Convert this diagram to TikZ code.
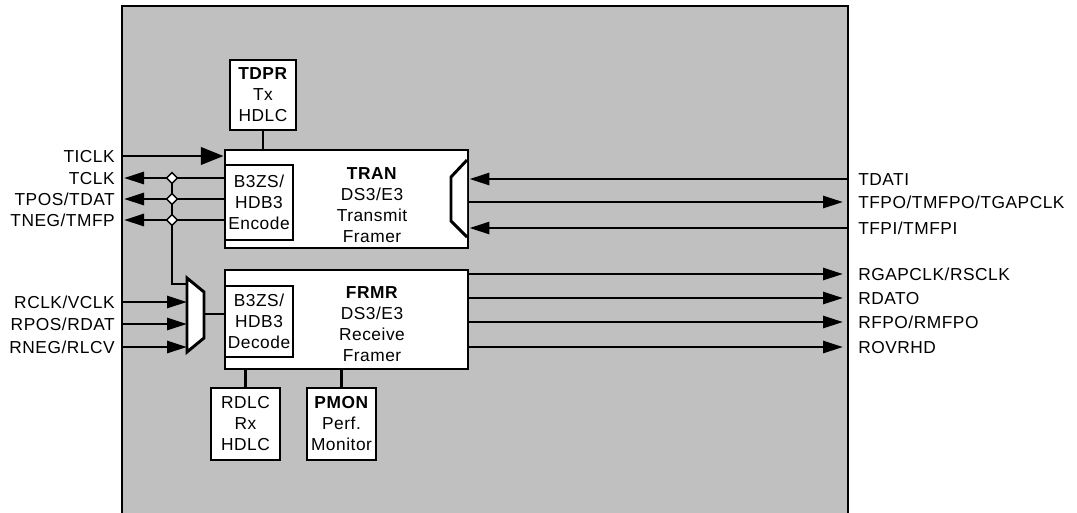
\documentclass[tikz,border=0pt]{standalone}
\usepackage{fontspec}
\setmainfont{Liberation Sans}[LetterSpace=3]
\usetikzlibrary{arrows.meta,shapes.geometric}
\definecolor{chipgray}{RGB}{192,192,192}

\tikzset{
  blk/.style={draw, fill=white, line width=2.2pt, inner sep=0pt, align=center,
    font=\fontsize{13}{15.75}\selectfont},
  txt/.style={inner sep=0pt, align=center, font=\fontsize{13}{15.75}\selectfont},
  pinl/.style={inner sep=0pt, text height=9.3pt, text depth=0pt,
    font=\fontsize{13}{15.75}\selectfont},
  sig/.style={line width=2.2pt},
  sigin/.style={sig, -{Triangle[length=15pt,width=9pt]}},
  jn/.style={diamond, draw, fill=white, line width=1pt, inner sep=0pt, minimum size=8.5pt},
}

\begin{document}
\begin{tikzpicture}[x={(0.75pt,0)}, y={(0,-0.75pt)}]
\path[use as bounding box, clip] (0,0) rectangle (1077,512);

% chip outline
\draw[fill=chipgray, line width=1.5pt] (122,6) rectangle (848,540);

% blocks
\node[blk, minimum width=49.5pt, minimum height=52.5pt] (tdpr) at (263,95) {\textbf{TDPR}\\Tx\\HDLC};
\node[blk, minimum width=182.25pt, minimum height=73.5pt] (tran) at (346.5,199) {};
\node[blk, minimum width=51pt, minimum height=56.25pt] (enc) at (259,202.5) {B3ZS/\\HDB3\\Encode};
\node[blk, minimum width=182.25pt, minimum height=74.25pt] (frmr) at (346.5,319.5) {};
\node[blk, minimum width=51pt, minimum height=53.25pt] (dec) at (259,321.5) {B3ZS/\\HDB3\\Decode};
\node[blk, minimum width=51.75pt, minimum height=54pt] (rdlc) at (245.5,424) {RDLC\\Rx\\HDLC};
\node[blk, minimum width=51.75pt, minimum height=54pt] (pmon) at (341.5,424) {\textbf{PMON}\\Perf.\\Monitor};

\node[txt] (tranl) at (372,205) {\textbf{TRAN}\\DS3/E3\\Transmit\\Framer};
\node[txt] (frmrl) at (372,324.5) {\textbf{FRMR}\\DS3/E3\\Receive\\Framer};

% block links
\draw[sig] (tdpr.south) -- (tdpr.south |- tran.north);
\draw[sig] (rdlc.north |- frmr.south) -- (rdlc.north);
\draw[sig] (pmon.north |- frmr.south) -- (pmon.north);

% transmit side mux
\draw[fill=white, line width=2.2pt] (467,160) -- (451,177) -- (451,221) -- (467,237);

% receive side mux
\draw[fill=white, line width=2.2pt] (187,278) -- (204,292) -- (204,338) -- (187,352) -- cycle;
\coordinate (rmx) at (187,315);
\coordinate (rmxo) at (204,314);
\coordinate (rmxt) at (187,284);
\draw[sig] (rmxo) -- (dec.west |- rmxo);

% TICLK
\node[pinl, anchor=east] (ticlk) at (115,156) {TICLK};
\coordinate (ticlke) at (122,156);
\draw[sig, -{Triangle[length=17pt,width=13pt]}] (ticlke) -- (tran.west |- ticlke);

% encoder outputs
\foreach \nm/\yy/\lbl in {tclk/178/TCLK, tpos/199/{TPOS/TDAT}, tneg/220/{TNEG/TMFP}} {
  \node[pinl, anchor=east] (\nm) at (115,\yy) {\lbl};
  \coordinate (\nm e) at (124,\yy);
  \draw[sigin] (enc.west |- \nm e) -- (\nm e);
  \coordinate (\nm j) at (172,\yy);
}
% loopback to receive mux
\draw[sig] (tclkj) -- (tclkj |- rmxt) -- (rmxt);
\foreach \nm in {tclk,tpos,tneg}
  \node[jn] at (\nm j) {};

% line inputs
\foreach \nm/\yy/\lbl in {rclk/302/{RCLK/VCLK}, rpos/324/{RPOS/RDAT}, rneg/347/{RNEG/RLCV}} {
  \node[pinl, anchor=east] (\nm) at (115,\yy) {\lbl};
  \coordinate (\nm e) at (122,\yy);
  \draw[sigin] (\nm e) -- (rmx |- \nm e);
}

% transmit side, right
\node[pinl, anchor=west] (tdati) at (858,179) {TDATI};
\coordinate (tdatie) at (848,179);
\draw[sigin] (tdatie) -- (tran.east |- tdatie);
\node[pinl, anchor=west] (tfpo) at (858,202) {TFPO/TMFPO/TGAPCLK};
\coordinate (tfpoe) at (843,202);
\draw[sigin] (tran.east |- tfpoe) -- (tfpoe);
\node[pinl, anchor=west] (tfpi) at (858,228) {TFPI/TMFPI};
\coordinate (tfpie) at (848,228);
\draw[sigin] (tfpie) -- (tran.east |- tfpie);

% receive side outputs
\foreach \nm/\yy/\lbl in {rgap/274/{RGAPCLK/RSCLK}, rdato/298/RDATO, rfpo/322/{RFPO/RMFPO}, rovr/347/ROVRHD} {
  \node[pinl, anchor=west] (\nm) at (858,\yy) {\lbl};
  \coordinate (\nm e) at (843,\yy);
  \draw[sigin] (frmr.east |- \nm e) -- (\nm e);
}

\end{tikzpicture}
\end{document}
